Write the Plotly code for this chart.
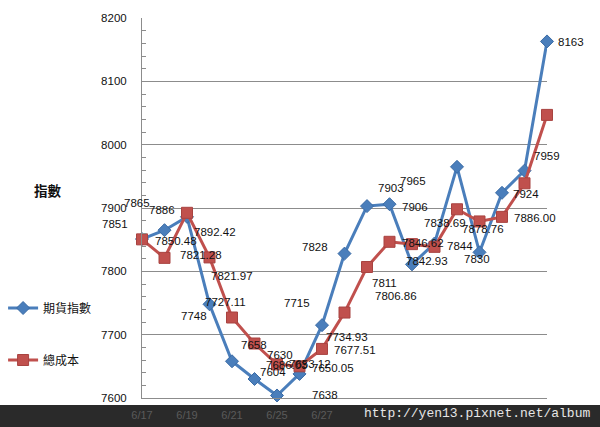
import plotly.graph_objects as go

# ---------------- data ----------------
dates = ["6/17", "6/18", "6/19", "6/20", "6/21", "6/24", "6/25", "6/26", "6/27", "6/28",
         "7/1", "7/2", "7/3", "7/4", "7/5", "7/8", "7/9", "7/10", "7/11"]
futures = [7851, 7865, 7886, 7748, 7658, 7630, 7604, 7638, 7715, 7828,
           7903, 7906, 7811, 7844, 7965, 7830, 7924, 7959, 8163]
cost = [7850.48, 7821.28, 7892.42, 7821.97, 7727.11, 7686.03, 7653.12, 7650.05, 7677.51, 7734.93,
        7806.86, 7846.62, 7842.93, 7838.69, 7898.00, 7878.76, 7886.00, 7939.00, 8047.00]
futures_labels = [f"{v:.0f}" for v in futures]
cost_labels = ["7850.48", "7821.28", "7892.42", "7821.97", "7727.11", "7686.03", "7653.12", "7650.05",
               "7677.51", "7734.93", "7806.86", "7846.62", "7842.93", "7838.69", "", "7878.76",
               "7886.00", "", ""]
# date labels visible (the later ones are hidden under the watermark bar in the reference)
tick_dates = ["6/17", "6/19", "6/21", "6/25", "6/27"]
series_names = ["期貨指數", "總成本"]
y_title = "指數"
watermark = "http://yen13.pixnet.net/album"

# ---------------- styles (label pixel offsets) ----------------
fut_off = [(-27, -15), (-28, -27), (-25, -7), (-16, 12), (22, -16), (25, -24), (-4, -23), (25, 21),
           (-25, -22), (-30, -7), (24, -18), (25, 3), (-28, 19), (25, 3), (-44, 14), (-3, 7),
           (24, 1), (22, -15), (24, 1)]
cost_off = [(34, 2), (36, -3), (28, 19), (22, 19), (-7, -16), (32, 21), (33, 0), (33, 2), (33, 1),
            (2, 24), (29, 29), (33, 1), (15, 17), (10, -24), (0, 0), (3, 8), (33, 1), (0, 0), (0, 0)]

BLUE = "#4A7EBB"
RED = "#C0504D"
GRID = "#8C8C8C"
FONT = "Liberation Sans"
CJK = "Noto Sans CJK TC"

fig = go.Figure()
fig.add_trace(go.Scatter(
    x=dates, y=futures, name=series_names[0], mode="lines+markers",
    line=dict(color=BLUE, width=3),
    marker=dict(symbol="diamond", size=10, color=BLUE, line=dict(color="#3A6BA5", width=1)),
    cliponaxis=False, legendgroup="a"))
fig.add_trace(go.Scatter(
    x=dates, y=cost, name=series_names[1], mode="lines+markers",
    line=dict(color=RED, width=3),
    marker=dict(symbol="square", size=11, color=RED, line=dict(color="#A84340", width=1)),
    cliponaxis=False, legendgroup="b"))

annotations = []
for xs, ys, labs, offs in [(dates, futures, futures_labels, fut_off), (dates, cost, cost_labels, cost_off)]:
    for xv, yv, lab, (dx, dy) in zip(xs, ys, labs, offs):
        if not lab:
            continue
        annotations.append(dict(x=xv, y=yv, xref="x", yref="y", text=lab, showarrow=False,
                                xanchor="center", yanchor="middle",
                                xshift=dx, yshift=-dy, font=dict(family=FONT, size=11.5, color="#111111")))

annotations.append(dict(x=-0.232, y=0.547, xref="paper", yref="paper", text=f"<b>{y_title}</b>",
                        showarrow=False, xanchor="center", yanchor="middle",
                        font=dict(family=CJK, size=13.5, color="#111111")))
annotations.append(dict(x=0.828, y=-0.042, xref="paper", yref="paper", text=watermark,
                        showarrow=False, xanchor="center", yanchor="middle", borderpad=0,
                        font=dict(family="Liberation Mono", size=13, color="#E6E6E6")))

fig.update_layout(
    width=600, height=427,
    margin=dict(l=142, r=53, t=18, b=29, autoexpand=False),
    paper_bgcolor="white", plot_bgcolor="white",
    showlegend=True,
    legend=dict(x=-0.343, y=0.275, xanchor="left", yanchor="top", tracegroupgap=33,
                font=dict(family=CJK, size=12, color="#111111"), bgcolor="rgba(0,0,0,0)"),
    annotations=annotations,
    shapes=[dict(type="rect", xref="paper", yref="paper", x0=-0.4, x1=1.2, y0=-0.09, y1=-0.0184,
                 fillcolor="#2A2A2A", line=dict(width=0), layer="below")],
)
fig.update_xaxes(type="category", range=[0, 18], tickvals=tick_dates, ticktext=tick_dates,
                 showgrid=False, showline=True, linecolor=GRID, linewidth=1, ticks="",
                 ticklabelstandoff=7,
                 tickfont=dict(family=FONT, size=11, color="#5A5A5A"), zeroline=False)
fig.update_yaxes(range=[7600, 8200], dtick=100, showgrid=True, gridcolor=GRID, gridwidth=1,
                 showline=True, linecolor=GRID, linewidth=1, ticks="", ticklabelstandoff=12,
                 tickfont=dict(family=FONT, size=11.5, color="#111111"), zeroline=False,
                 minor=dict(dtick=20, ticks="inside", ticklen=4, tickcolor=GRID, showgrid=False))

fig.write_html("out.html")
